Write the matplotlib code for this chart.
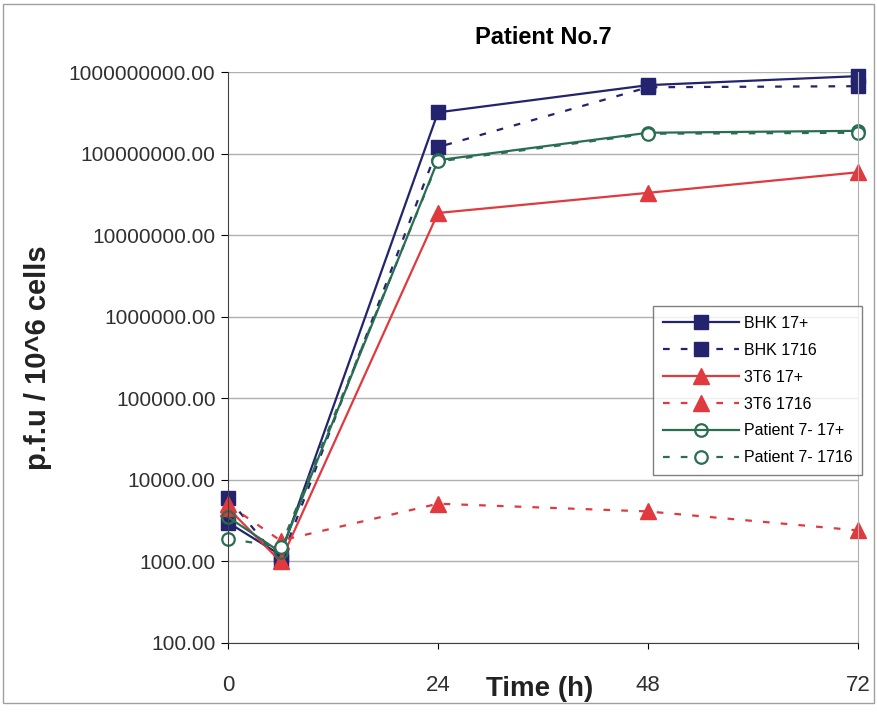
import matplotlib.pyplot as plt
from matplotlib.ticker import FixedLocator, NullLocator

plt.rcParams['font.family'] = ['Liberation Sans', 'DejaVu Sans']

times = [0, 6, 24, 48, 72]
bhk_17p = [3000, 1200, 3.2e8, 6.9e8, 8.9e8]
bhk_1716 = [6000, 1000, 1.2e8, 6.5e8, 6.7e8]
t36_17p = [4500, 1000, 1.87e7, 3.3e7, 5.9e7]
t36_1716 = [5000, 1800, 5100, 4100, 2400]
pat_17p = [3500, 1300, 8.3e7, 1.8e8, 1.9e8]
pat_1716 = [1900, 1500, 8.0e7, 1.75e8, 1.8e8]

yticks = [100, 1000, 10000, 100000, 1e6, 1e7, 1e8, 1e9]
ylabels = ['%.2f' % v for v in yticks]

navy = '#23236e'
red = '#e0393e'
green = '#2a6e52'

fig = plt.figure(figsize=(8.77, 7.17), dpi=100)
ax = fig.add_axes([228/877, 1-643/717, 630/877, 571/717])

dash = (0, (3, 5))
ax.plot(times, bhk_17p, color=navy, lw=1.6, marker='s', ms=10, label='BHK 17+', clip_on=False)
ax.plot(times, bhk_1716, color=navy, lw=1.6, ls=dash, marker='s', ms=10, label='BHK 1716', clip_on=False)
ax.plot(times, t36_17p, color=red, lw=1.6, marker='^', ms=11, label='3T6 17+', clip_on=False)
ax.plot(times, t36_1716, color=red, lw=1.6, ls=dash, marker='^', ms=11, label='3T6 1716', clip_on=False)
ax.plot(times, pat_17p, color=green, lw=1.6, marker='o', ms=9, mfc='none', mew=1.6,
        label='Patient 7- 17+', clip_on=False)
ax.plot(times, pat_1716, color=green, lw=1.6, ls=dash, marker='o', ms=9, mfc='white', mew=1.6,
        label='Patient 7- 1716', clip_on=False)

ax.set_yscale('log')
ax.set_ylim(100, 1e9)
ax.set_xlim(0, 72)
ax.yaxis.set_major_locator(FixedLocator(yticks))
ax.yaxis.set_minor_locator(NullLocator())
ax.set_yticklabels(ylabels, fontsize=15, color='#303030')
ax.set_xticks([0, 24, 48, 72])
ax.tick_params(axis='x', labelsize=16, length=4, direction='out', pad=19, labelcolor='#303030')
ax.tick_params(axis='y', length=5, direction='out', pad=4)
ax.grid(axis='y', color='#b0b0b0', lw=1)
ax.spines['top'].set_visible(False)
ax.spines['right'].set_color('#b0b0b0')
ax.spines['left'].set_color('#404040')
ax.spines['bottom'].set_color('#404040')

fig.text(543/877, 1-38/717, 'Patient No.7', fontsize=17, fontweight='bold', ha='center', va='center')
fig.text(38/877, 1-358/717, 'p.f.u / 10^6 cells', fontsize=21, fontweight='bold',
         rotation=90, ha='center', va='center', color='#222222')
fig.text(540/877, 1-689/717, 'Time (h)', fontsize=20, fontweight='bold', ha='center', va='center',
         color='#222222')

# thin frame around the whole chart
fig.patches.append(plt.Rectangle((0.003, 0.02), 0.994, 0.975, transform=fig.transFigure,
                                 fill=False, edgecolor='#a0a0a0', lw=1))

leg = fig.legend(loc='upper left', bbox_to_anchor=(645/877, 1-298/717), fontsize=11.5,
                 frameon=True, fancybox=False, edgecolor='#606060', handlelength=4.8,
                 labelspacing=0.75, borderpad=0.6, handletextpad=0.3)
leg.get_frame().set_linewidth(1)

plt.savefig('out.png', dpi=100)
